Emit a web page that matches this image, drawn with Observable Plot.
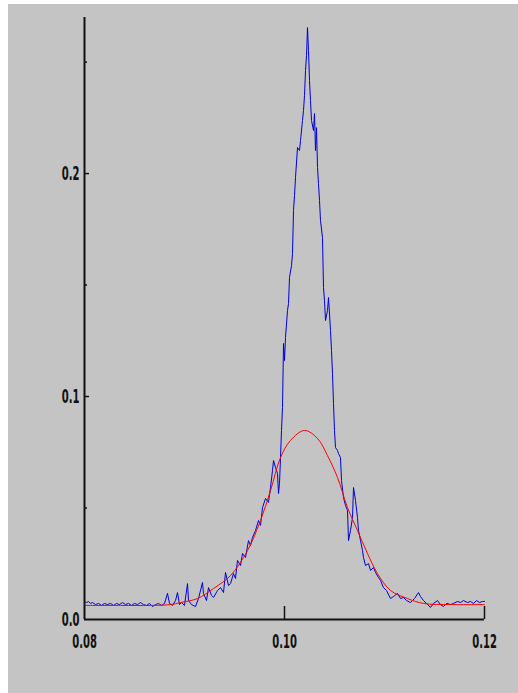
<!DOCTYPE html>
<html><head><meta charset="utf-8">
<script src="https://cdn.jsdelivr.net/npm/d3@7"></script>
<script src="https://cdn.jsdelivr.net/npm/@observablehq/plot@0.6"></script>
<style>body{margin:0;background:#fff;overflow:hidden}#chart svg{display:block}</style>
</head><body><div id="chart"></div>
<script>
// measured spectrum (blue)
const blue = [[0.0800,0.0081],[0.0802,0.0076],[0.0804,0.0081],[0.0806,0.0072],[0.0808,0.0076],[0.0811,0.0067],[0.0814,0.0072],[0.0817,0.0063],[0.0820,0.0072],[0.0823,0.0067],[0.0826,0.0072],[0.0829,0.0063],[0.0832,0.0072],[0.0835,0.0067],[0.0838,0.0076],[0.0841,0.0067],[0.0844,0.0072],[0.0847,0.0063],[0.0850,0.0072],[0.0853,0.0067],[0.0856,0.0076],[0.0859,0.0067],[0.0862,0.0063],[0.0865,0.0072],[0.0868,0.0058],[0.0871,0.0067],[0.0874,0.0072],[0.0877,0.0063],[0.0880,0.0072],[0.0883,0.0117],[0.0885,0.0072],[0.0888,0.0063],[0.0891,0.0085],[0.0893,0.0121],[0.0895,0.0067],[0.0897,0.0076],[0.0900,0.0063],[0.0903,0.0161],[0.0904,0.0085],[0.0907,0.0067],[0.0911,0.0058],[0.0914,0.0094],[0.0918,0.0166],[0.0919,0.0117],[0.0922,0.0085],[0.0924,0.0143],[0.0927,0.0108],[0.0929,0.0099],[0.0933,0.0130],[0.0936,0.0143],[0.0939,0.0121],[0.0941,0.0211],[0.0944,0.0152],[0.0946,0.0161],[0.0949,0.0206],[0.0951,0.0184],[0.0953,0.0265],[0.0956,0.0242],[0.0958,0.0296],[0.0961,0.0278],[0.0964,0.0354],[0.0966,0.0332],[0.0968,0.0368],[0.0971,0.0399],[0.0974,0.0444],[0.0976,0.0422],[0.0978,0.0502],[0.0981,0.0543],[0.0984,0.0525],[0.0986,0.0592],[0.0988,0.0668],[0.0989,0.0713],[0.0991,0.0682],[0.0993,0.0655],[0.0994,0.0565],[0.0995,0.0610],[0.0996,0.0726],[0.0997,0.0848],[0.0998,0.0951],[0.0999,0.1238],[0.1000,0.1161],[0.1001,0.1265],[0.1003,0.1386],[0.1004,0.1417],[0.1005,0.1534],[0.1007,0.1587],[0.1008,0.1641],[0.1009,0.1834],[0.1010,0.1901],[0.1011,0.1982],[0.1013,0.2117],[0.1015,0.2103],[0.1016,0.2148],[0.1018,0.2238],[0.1019,0.2283],[0.1020,0.2350],[0.1021,0.2462],[0.1022,0.2529],[0.1023,0.2655],[0.1024,0.2552],[0.1025,0.2417],[0.1026,0.2327],[0.1027,0.2238],[0.1029,0.2193],[0.1030,0.2269],[0.1031,0.2103],[0.1032,0.2206],[0.1033,0.2027],[0.1034,0.1955],[0.1035,0.1879],[0.1036,0.1789],[0.1038,0.1713],[0.1039,0.1489],[0.1040,0.1430],[0.1041,0.1341],[0.1043,0.1386],[0.1044,0.1444],[0.1046,0.1296],[0.1047,0.1206],[0.1048,0.1103],[0.1049,0.0969],[0.1050,0.0848],[0.1051,0.0771],[0.1053,0.0758],[0.1054,0.0744],[0.1056,0.0726],[0.1057,0.0623],[0.1059,0.0547],[0.1061,0.0511],[0.1063,0.0489],[0.1064,0.0354],[0.1066,0.0399],[0.1068,0.0457],[0.1069,0.0592],[0.1071,0.0534],[0.1073,0.0457],[0.1074,0.0399],[0.1076,0.0354],[0.1078,0.0309],[0.1079,0.0278],[0.1081,0.0242],[0.1084,0.0251],[0.1086,0.0220],[0.1089,0.0233],[0.1091,0.0211],[0.1094,0.0188],[0.1096,0.0175],[0.1099,0.0143],[0.1102,0.0130],[0.1106,0.0094],[0.1109,0.0103],[0.1113,0.0117],[0.1116,0.0094],[0.1119,0.0099],[0.1122,0.0085],[0.1126,0.0076],[0.1130,0.0094],[0.1134,0.0121],[0.1136,0.0103],[0.1139,0.0085],[0.1142,0.0072],[0.1146,0.0054],[0.1149,0.0072],[0.1153,0.0085],[0.1156,0.0067],[0.1159,0.0058],[0.1162,0.0072],[0.1166,0.0067],[0.1169,0.0072],[0.1173,0.0081],[0.1176,0.0076],[0.1179,0.0085],[0.1183,0.0076],[0.1186,0.0081],[0.1189,0.0072],[0.1192,0.0085],[0.1195,0.0076],[0.1198,0.0081],[0.1200,0.0081]];

// fitted curve (red)
const red = [[0.0800,0.0063],[0.0836,0.0063],[0.0866,0.0063],[0.0886,0.0067],[0.0896,0.0076],[0.0913,0.0094],[0.0929,0.0139],[0.0946,0.0197],[0.0963,0.0309],[0.0976,0.0444],[0.0986,0.0578],[0.0996,0.0726],[0.1006,0.0803],[0.1020,0.0848],[0.1033,0.0812],[0.1043,0.0735],[0.1053,0.0637],[0.1063,0.0502],[0.1073,0.0399],[0.1083,0.0296],[0.1093,0.0206],[0.1106,0.0130],[0.1123,0.0094],[0.1139,0.0072],[0.1166,0.0067],[0.1200,0.0067]];

const xTicks = [0.08, 0.10, 0.12];
const yTicks = [0.0, 0.1, 0.2];
const yMinor = [0.05, 0.15, 0.25];
const xDomain = [0.08, 0.12];
const yDomain = [0, 0.27];

const none = () => "";
const svg = Plot.plot({
  width: 518, height: 693,
  marginLeft: 84, marginRight: 34, marginTop: 17, marginBottom: 74,
  style: {background: "transparent", fontFamily: "DejaVu Sans", fontSize: "20px", fontWeight: "bold", color: "#111"},
  x: {domain: xDomain},
  y: {domain: yDomain},
  marks: [
    Plot.line(blue, {x: d => d[0], y: d => d[1], stroke: "#0000dd", strokeWidth: 1}),
    Plot.line(red, {x: d => d[0], y: d => d[1], stroke: "#ff0000", strokeWidth: 1, curve: "catmull-rom"}),
    Plot.axisX(xTicks.slice(1), {tickSize: -13, tickFormat: none, strokeWidth: 1.5, label: null}),
    Plot.axisX(xTicks, {tickSize: 0, tickPadding: 14, tickFormat: d3.format(".2f"), label: null}),
    Plot.axisY(yTicks.slice(1), {tickSize: -5, tickFormat: none, strokeWidth: 1.5, label: null}),
    Plot.axisY(yMinor, {tickSize: -3, tickFormat: none, strokeWidth: 1.5, label: null}),
    Plot.axisY(yTicks, {tickSize: 0, tickPadding: 5, tickFormat: d3.format(".1f"), label: null}),
    Plot.ruleX([xDomain[0]], {y1: yDomain[0], y2: yDomain[1], stroke: "#111", strokeWidth: 2}),
    Plot.ruleY([yDomain[0]], {x1: xDomain[0], x2: xDomain[1], stroke: "#111", strokeWidth: 2})
  ]
});

// condensed tick labels: squeeze horizontally around each label's anchor
d3.select(svg).selectAll("text").each(function() {
  const t = d3.select(this);
  const xs = t.attr("x");
  const x = (xs != null && /^-?[\d.]+$/.test(xs)) ? +xs : 0;
  const T = t.attr("transform") || "";
  t.attr("transform", `${T} translate(${x},0) scale(0.5,1) translate(${-x},0)`.trim());
});
// grey figure background
d3.select(svg).insert("rect", ":first-child")
  .attr("x", 8).attr("y", 4).attr("width", 510).attr("height", 689).attr("fill", "#c4c4c4");

document.getElementById("chart").appendChild(svg);
</script>
</body></html>
